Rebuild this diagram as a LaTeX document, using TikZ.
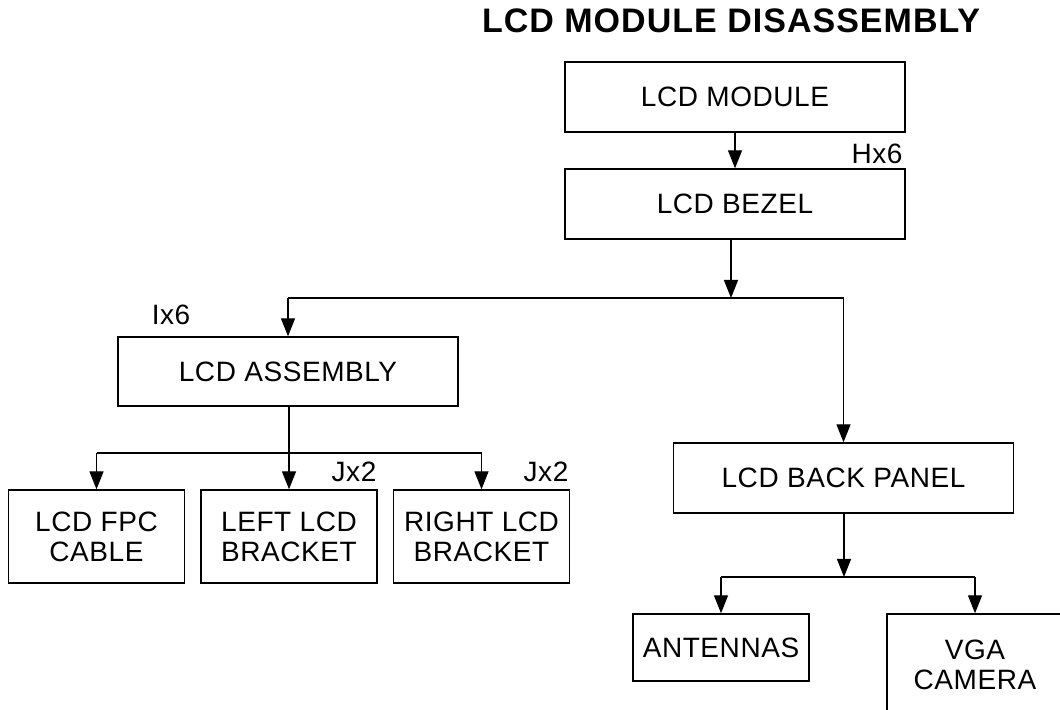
\documentclass[tikz,border=0pt]{standalone}
\usepackage{fontspec}
\setmainfont{Liberation Sans}
\usetikzlibrary{arrows.meta, positioning}
\newcommand{\partfont}{\fontsize{14}{15}\selectfont\addfontfeatures{LetterSpace=2}}

\begin{document}
\begin{tikzpicture}[x=0.5pt, y=-0.5pt, line width=0.7pt,
    part/.style={draw, inner sep=0pt, minimum width=170pt, minimum height=35pt,
      align=center, font=\partfont},
    smallpart/.style={part, minimum width=88pt, minimum height=46.5pt},
    screws/.style={font=\partfont},
    >={Triangle[length=9pt,width=7pt]}]
  \useasboundingbox (0,0) rectangle (1060,710);
  % title
  \node[font=\fontsize{17}{18}\selectfont\bfseries\addfontfeatures{LetterSpace=3}, anchor=base]
    (title) at (731,33) {LCD MODULE DISASSEMBLY};
  % parts
  \node[part] (module) at (735,97) {LCD MODULE};
  \node[part] (bezel) at (735,204) {LCD BEZEL};
  \node[part, minimum height=34.5pt] (assembly) at (288,371.5) {LCD ASSEMBLY};
  \node[part] (backpanel) at (843.5,478) {LCD BACK PANEL};
  \node[smallpart] (fpc) at (96.5,536.5) {LCD FPC\\CABLE};
  \node[smallpart] (leftbr) at (289,536.5) {LEFT LCD\\BRACKET};
  \node[smallpart] (rightbr) at (481.5,536.5) {RIGHT LCD\\BRACKET};
  \node[smallpart, minimum height=33.5pt] (antennas) at (721,647.5) {ANTENNAS};
  \node[smallpart, minimum height=51pt] (vga) at (975,665) {VGA\\CAMERA};
  % screw counts
  \node[screws] (hx) at (877,154) {Hx6};
  \node[screws] (ix) at (171,315) {Ix6};
  \node[screws] (jxleft) at (354,472) {Jx2};
  \node[screws] (jxright) at (546,472) {Jx2};
  % module -> bezel
  \draw[->] (module) -- (bezel);
  % bezel -> assembly, back panel
  \coordinate (split1) at (731,298);
  \draw[->] (bezel.south -| split1) -- (split1);
  \draw (assembly.north |- split1) -- (backpanel.north |- split1);
  \draw[->] (assembly.north |- split1) -- (assembly.north);
  \draw[->] (backpanel.north |- split1) -- (backpanel.north);
  % assembly -> cable, brackets
  \coordinate (split2) at (289,453);
  \draw (assembly.south -| split2) -- (split2);
  \draw (fpc.north |- split2) -- (rightbr.north |- split2);
  \foreach \n in {fpc, leftbr, rightbr}
    \draw[->] (\n.north |- split2) -- (\n.north);
  % back panel -> antennas, camera
  \coordinate (split3) at (844,577);
  \draw[->] (backpanel.south -| split3) -- (split3);
  \draw (antennas.north |- split3) -- (vga.north |- split3);
  \foreach \n in {antennas, vga}
    \draw[->] (\n.north |- split3) -- (\n.north);
\end{tikzpicture}
\end{document}
